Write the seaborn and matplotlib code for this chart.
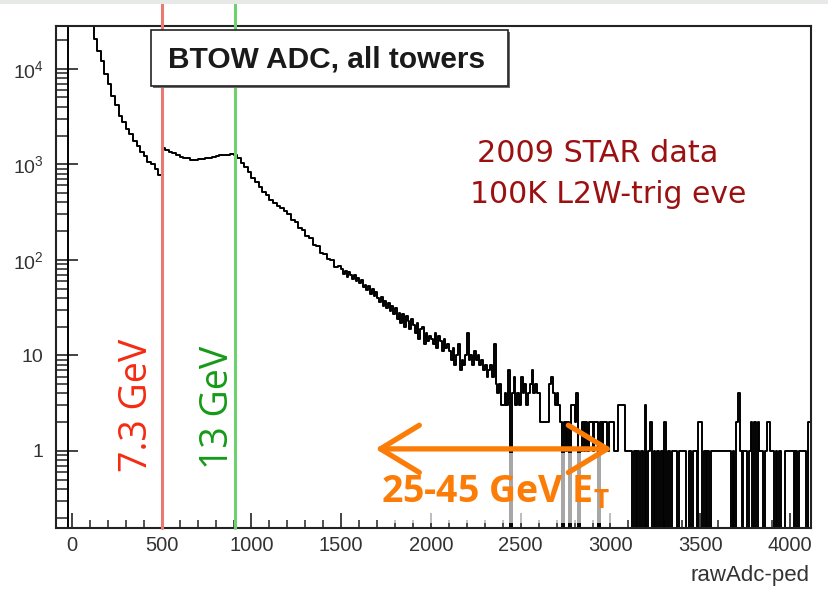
import numpy as np
import pandas as pd
import seaborn as sns
import matplotlib.pyplot as plt
from matplotlib.patches import Rectangle
from matplotlib.ticker import MultipleLocator, LogLocator, NullFormatter

# rawAdc-ped histogram
# 20-count bins up to 1500, 10-count bins in the noisy tail
bin_edges = np.concatenate([np.arange(-100, 1500, 20), np.arange(1500, 4121, 10)])

# -100 .. 120 : empty below pedestal, pedestal itself off scale
counts_pedestal = [0, 0, 0, 0, 3.0e6, 8.0e6, 5.0e6, 1.5e6, 4.0e5, 1.2e5, 4.5e4]
# 120 .. 500
counts_low = [20300, 15500, 12100, 8800, 7000, 5200, 4150, 3200, 2780, 2330,
              2070, 1740, 1560, 1340, 1210, 1060, 1010, 900, 780]
# 500 .. 1000
counts_mid = [1480, 1400, 1350, 1300, 1260, 1200, 1175, 1150, 1120, 1120,
              1125, 1135, 1150, 1170, 1200, 1230, 1250, 1260, 1260, 1270,
              1250, 1150, 1020, 930, 830]
# 1000 .. 1500
counts_slope = [724, 651, 583, 507, 476, 418, 396, 362, 351, 322,
                301, 259, 246, 214, 205, 176, 168, 143, 139, 118,
                116, 101, 99, 85, 87]
# 1500 .. 2000 (10-count bins)
counts_knee = [80, 71, 77, 66, 74, 69, 63, 70, 60, 64,
               57, 61, 52, 55, 48, 53, 44, 49, 42, 46,
               40, 36, 41, 33, 37, 31, 35, 29, 33, 27,
               31, 24, 28, 22, 27, 20, 26, 23, 19, 24,
               21, 17, 22, 15, 19, 20, 13, 17, 14, 16]
# 2000 .. 3000
counts_tail = [15, 13, 17, 12, 16, 14, 11, 15, 12, 13,
               11, 9, 12, 8, 10, 13, 7, 9, 8, 10,
               17, 9, 10, 8, 11, 9, 10, 8, 9, 7,
               8, 6, 7, 8, 6, 13, 5, 4, 5, 3,
               3, 4, 3, 7, 0, 4, 6, 3, 4, 3,
               6, 4, 5, 3, 4, 5, 7, 4, 5, 4,
               4, 2, 2, 2, 2, 2, 5, 6, 4, 3,
               4, 3, 2, 0, 2, 1, 2, 0, 3, 3,
               2, 4, 0, 1, 2, 1, 2, 1, 2, 2,
               1, 2, 2, 0, 2, 1, 2, 2, 1, 2]
# 3000 .. 4120
counts_far = [2, 2, 1, 1, 3, 3, 3, 3, 1, 1,
              1, 1, 0, 1, 0, 1, 0, 1, 0, 3,
              0, 1, 2, 0, 1, 0, 1, 0, 1, 0,
              2, 0, 1, 0, 1, 1, 1, 0, 1, 1,
              1, 1, 0, 0, 1, 0, 1, 1, 0, 2,
              2, 0, 1, 0, 1, 0, 1, 1, 1, 1,
              1, 1, 1, 1, 1, 1, 1, 0, 1, 0,
              2, 4, 1, 0, 1, 1, 0, 1, 2, 0,
              2, 0, 2, 1, 1, 0, 1, 2, 2, 1,
              1, 0, 1, 0, 1, 0, 0, 1, 1, 1,
              1, 1, 0, 1, 0, 1, 1, 1, 1, 0,
              2, 2]

cut_adc = [500, 910]
cut_labels = ['7.3 GeV', '13 GeV']
window_adc = [1690, 3010]

xtick_values = [0, 500, 1000, 1500, 2000, 2500, 3000, 3500, 4000]
ytick_values = [1, 10, 100, 1000, 10000]
ytick_labels = ['1', '10', r'$\mathregular{10^{2}}$', r'$\mathregular{10^{3}}$', r'$\mathregular{10^{4}}$']

counts = np.array(counts_pedestal + counts_low + counts_mid + counts_slope
                  + counts_knee + counts_tail + counts_far, dtype=float)
# empty bins drop to the bottom of the log axis, like ROOT does
shown = np.where(counts > 0, counts, 1e-3)
# step outline: one point per left edge, last value repeated at the right edge
df = pd.DataFrame({'adc': bin_edges, 'counts': np.append(shown, shown[-1])})

sns.set_style('white')
plt.rcParams['font.family'] = ['Liberation Sans', 'DejaVu Sans']
plt.rcParams['mathtext.fontset'] = 'custom'
plt.rcParams['mathtext.rm'] = 'Liberation Sans'
plt.rcParams['mathtext.bf'] = 'Open Sans:bold'

fig = plt.figure(figsize=(8.29, 5.9), dpi=100)
ax = fig.add_axes([56/829, 62/590, 755/829, 502/590])

sns.lineplot(data=df, x='adc', y='counts', estimator=None, sort=False,
             drawstyle='steps-post', color='black', linewidth=1.4, ax=ax)
ax.set_yscale('log')
ax.set_xlim(-89, 4117)
ax.set_ylim(0.156, 28000)
ax.set_xlabel('')
ax.set_ylabel('')

# ROOT style frame and ticks
for s in ax.spines.values():
    s.set_color('#222222')
    s.set_linewidth(1.5)
ax.set_xticks(xtick_values)
ax.xaxis.set_minor_locator(MultipleLocator(100))
ax.set_yticks(ytick_values, labels=ytick_labels)
ax.yaxis.set_minor_locator(LogLocator(base=10, subs=np.arange(2, 10)))
ax.yaxis.set_minor_formatter(NullFormatter())
ax.tick_params(axis='x', which='both', bottom=True, top=False, direction='in', color='#222222')
ax.tick_params(axis='y', which='both', left=True, right=False, direction='in', color='#222222')
ax.tick_params(axis='x', which='major', length=10.5, width=1.2,
               labelsize=14.5, labelcolor='#333333', pad=6)
ax.tick_params(axis='x', which='minor', length=5.5, width=1.1)
ax.tick_params(axis='y', which='major', length=16, width=1.2,
               labelsize=14, labelcolor='#333333', pad=9)
ax.tick_params(axis='y', which='minor', length=9.5, width=1.1)

# cut lines reaching above the frame
ax.axvline(cut_adc[0], ymin=0, ymax=1.046, color='#e87a72', lw=2.2, clip_on=False, zorder=3)
ax.axvline(cut_adc[1], ymin=0, ymax=1.046, color='#6fd06f', lw=2.2, clip_on=False, zorder=3)
ax.text(0.107, 0.245, cut_labels[0], transform=ax.transAxes, rotation=90,
        ha='center', va='center', fontsize=27, color='#f52a12', family=['Open Sans', 'DejaVu Sans'])
ax.text(0.2146, 0.240, cut_labels[1], transform=ax.transAxes, rotation=90,
        ha='center', va='center', fontsize=27, color='#169a16', family=['Open Sans', 'DejaVu Sans'])

# title pave with shadow
ax.add_patch(Rectangle((0.1285, 0.8765), 0.4729, 0.1115, transform=ax.transAxes,
                       facecolor='#6a6a6a', edgecolor='none', clip_on=False, zorder=5))
ax.add_patch(Rectangle((0.1258, 0.8805), 0.4729, 0.1115, transform=ax.transAxes,
                       facecolor='white', edgecolor='#222222', lw=1.2, clip_on=False, zorder=6))
ax.text(0.3583, 0.934, 'BTOW ADC, all towers', transform=ax.transAxes, ha='center', va='center',
        fontsize=21.5, fontweight='bold', color='#1a1a1a', zorder=7)

ax.text(0.5576, 0.729, '2009 STAR data', transform=ax.transAxes, ha='left', va='baseline',
        fontsize=21.8, color='#9b1111', family=['DejaVu Sans'])
ax.text(0.548, 0.647, '100K L2W-trig eve', transform=ax.transAxes, ha='left', va='baseline',
        fontsize=21.5, color='#9b1111', family=['DejaVu Sans'])

# energy window annotation
ax.add_patch(Rectangle((0.429, 0.01), 0.314, 0.139, transform=ax.transAxes,
                       facecolor='white', edgecolor='none', alpha=0.65, zorder=4))
ax.annotate('', xy=(window_adc[1], 1.05), xytext=(window_adc[0], 1.05),
            arrowprops=dict(arrowstyle='<->,head_length=2.8,head_width=1.7', lw=3.8,
                            color='#fb7d07', mutation_scale=10, shrinkA=0, shrinkB=0,
                            capstyle='round', joinstyle='round'), zorder=5)
ax.text(0.431, 0.05, r'25-45 GeV E$_\mathbf{T}$', transform=ax.transAxes, ha='left', va='baseline',
        fontsize=27, fontweight='bold', color='#fb7d07', family=['Open Sans', 'DejaVu Sans'], zorder=6)

fig.text(0.977, 0.0254, 'rawAdc-ped', ha='right', va='center', fontsize=16, color='#333333')
fig.patches.append(Rectangle((0, 1 - 4/590), 1, 4/590, transform=fig.transFigure,
                             facecolor='#e6e9e6', edgecolor='none'))

fig.savefig('out.png', dpi=100)
